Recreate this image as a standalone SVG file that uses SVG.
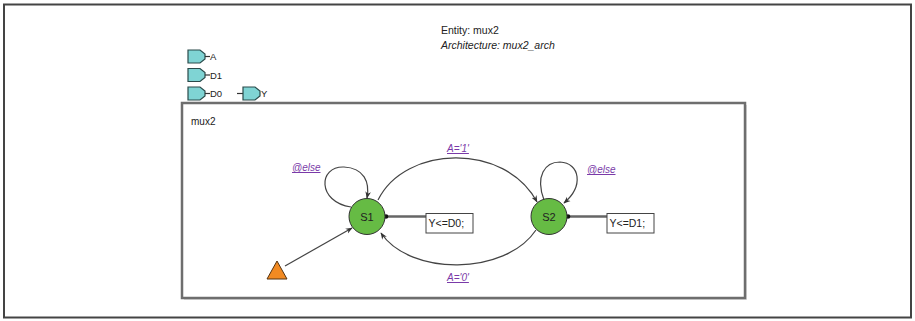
<svg xmlns="http://www.w3.org/2000/svg" width="915" height="321" viewBox="0 0 915 321">
  <defs>
    <style>
      .frame { fill: none; stroke: #444; stroke-width: 2; }
      .box { fill: #fff; stroke: #6e6e6e; stroke-width: 2.5; }
      .txt { font-family: "Liberation Sans", Arial, sans-serif; fill: #222; }
      .hdr { font-size: 10.5px; }
      .port { fill: #7fd4d4; stroke: #2a4a4a; stroke-width: 1.2; }
      .wire { stroke: #333; stroke-width: 1.2; fill: none; }
      .state { fill: #66bb44; stroke: #333; stroke-width: 1; }
      .slabel { font-size: 11px; text-anchor: middle; }
      .edge { fill: none; stroke: #444; stroke-width: 1.2; marker-end: url(#arr); }
      .cond { font-family: "Liberation Sans", Arial, sans-serif; font-size: 10px; font-style: italic; fill: #7a3aa8; text-decoration: underline; }
      .action { fill: #fff; stroke: #444; stroke-width: 1; }
      .alink { stroke: #666; stroke-width: 2.5; fill: none; }
    </style>
    <marker id="arr" viewBox="0 0 10 10" refX="9" refY="5" markerWidth="7" markerHeight="7" orient="auto" markerUnits="userSpaceOnUse">
      <path d="M0,1 L10,5 L0,9 L3,5 z" fill="#333"/>
    </marker>
    <path id="porticon" d="M0,0 h12 l5,4 v5 l-5,4 h-12 z"/>
  </defs>

  <rect width="915" height="321" fill="#fff"/>
  <!-- outer page frame -->
  <rect class="frame" x="4" y="4.5" width="907" height="313"/>

  <!-- header -->
  <g id="header">
    <text class="txt hdr" x="441" y="34">Entity: mux2</text>
    <text class="txt hdr" x="441" y="49" font-style="italic">Architecture: mux2_arch</text>
  </g>

  <!-- ports -->
  <g id="port-A">
    <use href="#porticon" class="port" x="188" y="50"/>
    <line class="wire" x1="205" y1="56.5" x2="210" y2="56.5"/>
    <text class="txt" x="210" y="60" font-size="9.5">A</text>
  </g>
  <g id="port-D1">
    <use href="#porticon" class="port" x="188" y="68.5"/>
    <line class="wire" x1="205" y1="75" x2="210" y2="75"/>
    <text class="txt" x="210" y="78.5" font-size="9.5">D1</text>
  </g>
  <g id="port-D0">
    <use href="#porticon" class="port" x="188" y="87"/>
    <line class="wire" x1="205" y1="93.5" x2="210" y2="93.5"/>
    <text class="txt" x="210" y="97" font-size="9.5">D0</text>
  </g>
  <g id="port-Y">
    <line class="wire" x1="237" y1="93.5" x2="243" y2="93.5"/>
    <use href="#porticon" class="port" x="243" y="87"/>
    <text class="txt" x="261" y="97" font-size="9.5">Y</text>
  </g>

  <!-- state machine container -->
  <g id="mux2">
    <rect x="184" y="105" width="563" height="195" fill="#bbb" opacity="0.5"/>
    <rect class="box" x="182" y="103" width="563" height="195"/>
    <text class="txt" x="191" y="125" font-size="10">mux2</text>
  </g>

  <!-- connectors -->
  <g id="connectors">
    <!-- S1 self loop -->
    <path class="edge" d="M351,207 C317,202 318,166 344,167 C364,168 370,182 367,198"/>
    <!-- S2 self loop -->
    <path class="edge" d="M544,200 C535,176 545,162 560,162 C580,163 584,186 564,203"/>
    <!-- S1 -> S2 -->
    <path class="edge" d="M378,200 C405,145 505,142 537,202"/>
    <!-- S2 -> S1 -->
    <path class="edge" d="M536,230 C505,276 410,276 381,233"/>
    <!-- start -> S1 -->
    <path class="edge" d="M285,266 L352,228"/>
    <!-- action links -->
    <line class="alink" x1="385" y1="216.5" x2="426" y2="216.5"/>
    <circle cx="386" cy="216.5" r="2.3" fill="#111"/>
    <line class="alink" x1="567" y1="216.5" x2="607" y2="216.5"/>
    <circle cx="568" cy="216.5" r="2.3" fill="#111"/>
    <text class="cond" x="292" y="171">@else</text>
    <text class="cond" x="587" y="173">@else</text>
    <text class="cond" x="447" y="152">A='1'</text>
    <text class="cond" x="447" y="281">A='0'</text>
  </g>

  <g id="start">
    <polygon points="277,261 287,279 267,279" fill="#f28a22" stroke="#553311" stroke-width="1"/>
  </g>

  <g id="S1">
    <circle class="state" cx="367" cy="216.5" r="18"/>
    <text class="txt slabel" x="367" y="220.5">S1</text>
  </g>
  <g id="S2">
    <circle class="state" cx="549" cy="216.5" r="18"/>
    <text class="txt slabel" x="549" y="220.5">S2</text>
  </g>

  <g id="action-S1">
    <rect class="action" x="426" y="213.5" width="47" height="19.5"/>
    <text class="txt" x="428.5" y="227" font-size="10.5">Y&lt;=D0;</text>
  </g>
  <g id="action-S2">
    <rect class="action" x="607" y="213.5" width="47" height="19.5"/>
    <text class="txt" x="609.5" y="227" font-size="10.5">Y&lt;=D1;</text>
  </g>
</svg>
